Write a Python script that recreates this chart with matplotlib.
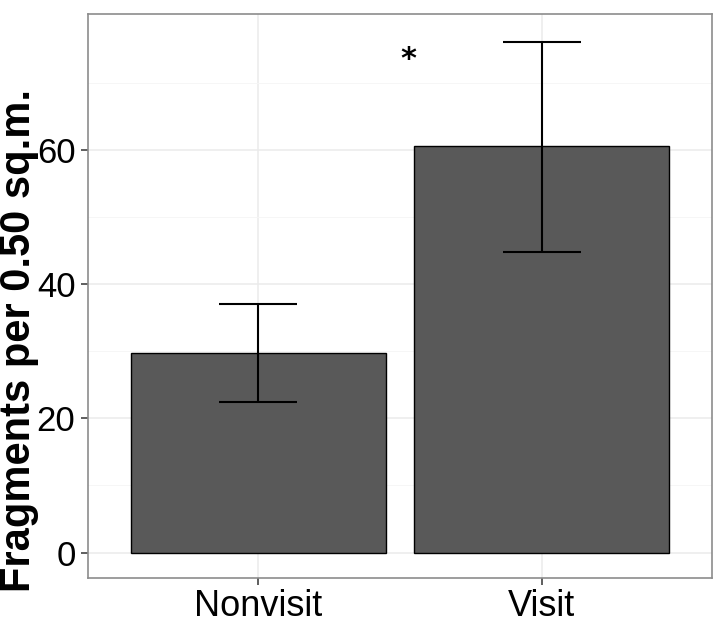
import matplotlib
matplotlib.use("Agg")
import matplotlib.pyplot as plt
from matplotlib.ticker import FixedLocator

# Data
categories = ["Nonvisit", "Visit"]
means = [29.7, 60.6]
lower = [22.4, 44.8]
upper = [37.1, 76.1]
yticks = [0, 20, 40, 60]
minor_yticks = [10, 30, 50, 70]
sig_label = "*"
sig_pos = (1.53, 73.5)

plt.rcParams["font.family"] = ["Liberation Sans", "DejaVu Sans"]

fig = plt.figure(figsize=(7.14, 6.27), dpi=100)
ax = fig.add_axes([88 / 714, 1 - 578 / 627, (712 - 88) / 714, (578 - 14) / 627])

x = [1, 2]
ax.bar(x, means, width=0.9, color="#595959", edgecolor="black", linewidth=1.0, zorder=2)

err_lo = [m - l for m, l in zip(means, lower)]
err_hi = [u - m for m, u in zip(means, upper)]
ax.errorbar(x, means, yerr=[err_lo, err_hi], fmt="none", ecolor="black",
            elinewidth=1.5, capsize=28, capthick=1.5, zorder=3)

ax.text(sig_pos[0], sig_pos[1], sig_label, fontsize=22, fontweight="bold",
        ha="center", va="center", family="DejaVu Sans", zorder=4)

ax.set_xlim(0.4, 2.6)
ax.set_ylim(-3.8, 80.3)
ax.set_xticks(x)
ax.set_xticklabels(categories)
ax.yaxis.set_major_locator(FixedLocator(yticks))
ax.yaxis.set_minor_locator(FixedLocator(minor_yticks))

ax.grid(True, which="major", color="#EBEBEB", linewidth=1.1, zorder=0)
ax.grid(True, which="minor", axis="y", color="#F5F5F5", linewidth=0.6, zorder=0)
ax.set_axisbelow(True)

for s in ax.spines.values():
    s.set_color("#8C8C8C")
    s.set_linewidth(1.2)

ax.tick_params(axis="both", which="major", labelsize=25, length=5, width=1.1,
               color="#333333", labelcolor="black", pad=4)
ax.tick_params(axis="x", which="major", labelsize=26, pad=3)
ax.tick_params(axis="y", which="minor", length=0)

# y label placed by hand so it sits left of the tick labels like the original
fig.text(19 / 714, 1 - 592 / 627, "Fragments per 0.50 sq.m.", rotation=90,
         fontsize=30, fontweight="bold", ha="center", va="bottom")

fig.savefig("out.png", dpi=100, facecolor="white")
